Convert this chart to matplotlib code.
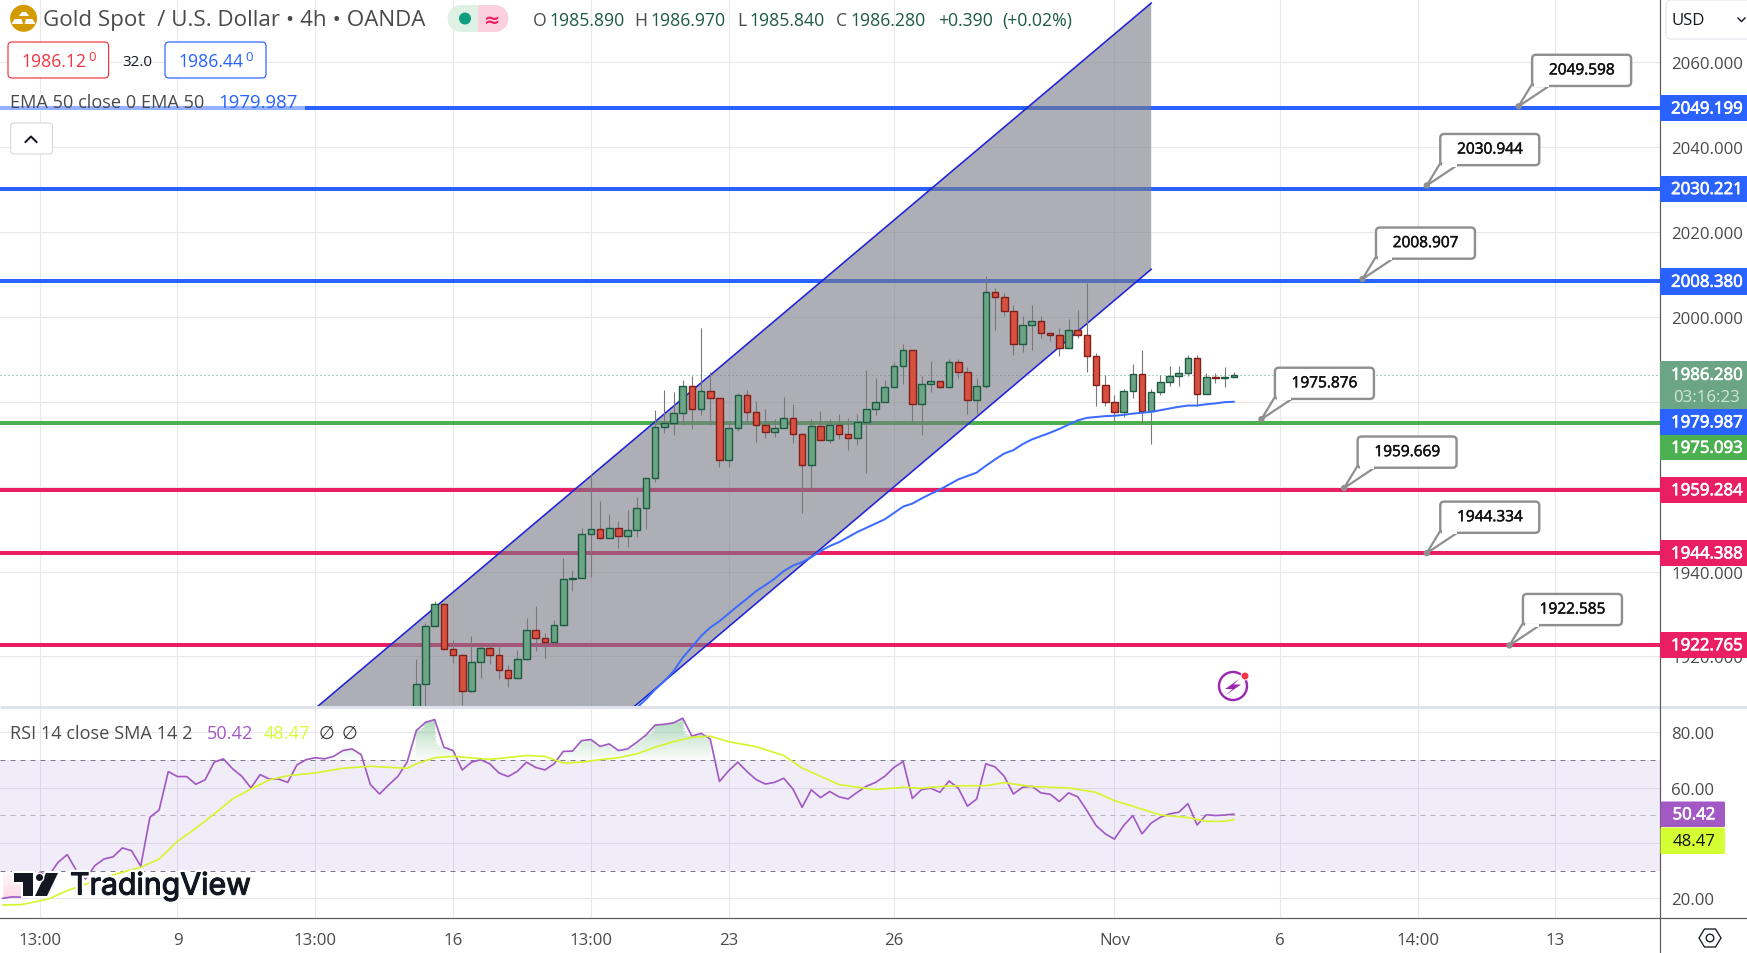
import numpy as np
import matplotlib
matplotlib.use("Agg")
import matplotlib.pyplot as plt
from matplotlib.patches import FancyBboxPatch, Polygon, Rectangle, Circle, Wedge
import matplotlib.patheffects as pe

plt.rcParams['font.family'] = ['Open Sans', 'DejaVu Sans']

# ---------- data ----------
opens = [1903,1913.6,1927.2,1932.4,1921.8,1920.4,1911.9,1918.8,1922.0,1920.4,1916.9,1915.0,1919.5,1926.3,1924.4,1923.4,1927.5,1938.3,1938.5,1948.9,
         1950.1,1947.9,1950.3,1948.4,1949.8,1955.0,1962.1,1974.1,1975.0,1977.4,1983.8,1978.3,1982.6,1980.9,1966.3,1973.9,1981.6,1977.6,1974.6,1972.9,
         1973.9,1976.2,1972.5,1965.1,1974.3,1971.0,1974.6,1972.5,1971.4,1975.3,1978.3,1980.0,1983.5,1988.5,1992.2,1979.5,1984.2,1984.9,1983.5,1989.4,
         1987.0,1980.5,1983.8,2005.9,2004.7,2001.4,1993.7,1998.1,1999.1,1996.2,1995.8,1992.7,1997.0,1995.8,1990.8,1984.0,1980.0,1977.6,1982.6,1986.6,
         1977.9,1982.3,1984.7,1986.1,1986.8,1990.4,1981.9,1985.9,1985.6,1985.89]
highs = [1919.5,1927.8,1933.1,1932.5,1923.8,1920.5,1924.7,1922.6,1923.1,1922.2,1917.9,1921.6,1929.1,1931.8,1925.4,1928.5,1943.1,1940.3,1950.3,1962.9,
         1956.7,1953.5,1951.8,1954.6,1957.5,1962.1,1978.0,1982.7,1982.2,1985.2,1986.0,1997.3,1986.9,1980.9,1975.0,1982.1,1982.8,1980.2,1978.2,1976.0,
         1981.0,1979.4,1972.7,1976.0,1977.7,1976.0,1977.2,1976.1,1977.0,1987.4,1985.7,1985.0,1989.4,1993.7,1992.2,1986.0,1989.5,1984.9,1990.1,1990.0,
         1988.1,1985.7,2009.5,2006.9,2005.7,2002.7,2000.3,2002.7,2000.1,1996.2,1997.4,1999.4,2001.7,2008.0,1991.4,1986.2,1981.5,1983.0,1988.8,1992.1,
         1983.1,1986.2,1988.4,1988.5,1991.1,1991.1,1986.7,1986.7,1988.1,1986.97]
lows = [1900,1905,1927.1,1921.5,1918.4,1908.5,1911.7,1914.9,1918.1,1914.7,1912.8,1914.7,1919.1,1921.3,1919.6,1923.2,1927.1,1935.4,1938.5,1938.8,
        1947.7,1947.9,1945.5,1945.8,1948.2,1950.0,1961.1,1972.7,1972.1,1974.5,1973.5,1976.9,1974.5,1964.6,1964.6,1973.2,1975.0,1970.5,1971.4,1971.7,
        1973.9,1970.3,1953.8,1959.2,1971.0,1970.2,1971.1,1968.6,1969.8,1963.2,1976.8,1980.0,1983.5,1984.1,1975.3,1972.1,1982.4,1983.2,1983.5,1985.7,
        1977.2,1977.0,1983.2,1997.0,2000.3,1991.1,1991.6,1992.1,1994.9,1994.2,1990.7,1992.7,1994.9,1986.9,1978.9,1978.9,1975.4,1976.5,1980.8,1974.7,
        1970.0,1981.5,1983.6,1983.8,1986.1,1979.1,1981.9,1984.5,1983.4,1985.84]
closes = opens[1:] + [1986.28]
closes[86] = 1985.9
closes[87] = 1985.6
closes[88] = 1985.9
bars = np.arange(len(opens))

ema_start = 24
ema50 = [1907.9,1909.9,1912.2,1914.2,1916.5,1919.7,1922.2,1924.8,1926.8,1928.3,1930.1,1931.9,1933.6,1935.4,1936.8,1938.3,1940.1,1941.4,1942.2,1943.4,
         1944.8,1946.0,1946.9,1948.1,1949.3,1950.3,1951.3,1952.3,1953.8,1955.3,1956.0,1957.2,1958.3,1959.3,1960.5,1961.7,1962.5,1963.3,1964.9,1966.4,
         1967.8,1968.6,1970.0,1971.1,1971.9,1972.7,1973.6,1974.6,1975.6,1976.2,1976.4,1976.6,1976.7,1976.9,1977.2,1977.4,1977.6,1978.0,1978.4,1978.8,
         1979.1,1979.1,1979.4,1979.6,1979.9,1979.987]

rsi_start = -45
rsi = [20.0,20.5,20.4,24.6,29.4,28.2,33.0,35.8,30.0,27.0,31.8,34.2,35.0,38.2,37.2,31.6,49.3,51.9,65.8,64.0,64.0,61.2,62.8,69.2,70.4,66.8,64.1,59.9,64.7,63.1,
       63.1,61.9,68.2,70.1,70.8,70.4,71.3,73.4,74.0,71.9,61.1,57.7,61.0,64.1,69.2,80.6,83.6,84.6,74.6,73.4,66.4,69.2,70.1,68.6,65.3,64.0,65.9,69.2,67.3,66.4,
       68.6,73.1,73.2,77.0,77.4,74.9,75.8,73.4,74.0,76.4,79.0,82.6,82.9,83.4,85.1,78.6,79.6,77.6,62.2,66.1,69.2,65.8,62.9,61.3,61.9,63.4,59.5,52.9,59.2,56.4,
       58.6,56.7,55.9,58.3,60.5,61.9,64.1,67.3,69.4,56.1,59.3,59.8,58.3,62.4,59.8,53.3,55.9,68.6,67.5,64.1,57.7,60.1,60.5,58.1,57.6,55.0,58.1,56.7,51.7,46.3,
       43.3,41.4,46.3,49.9,43.3,47.2,49.3,50.5,51.1,54.2,46.5,50.2,49.9,50.1,50.42]

sma_bars = [-45,-43,-40,-38,-33,-30,-28,-26,-24,-22,-20,-18,-16,-14,-11,-8,-5,-1,0,2,4,8,12,14,16,18,20,22,24,26,28,30,32,34,37,40,42,46,50,53,55,58,62,64,67,71,74,76,78,81,84,86,88,89]
sma_vals = [17.6,17.7,19.8,22.8,28.5,31.2,34.2,40.6,45.3,50.5,55.9,59.5,62.8,64.3,65.3,67.0,67.7,67.0,68.6,70.8,71.3,70.2,71.6,71.3,68.9,69.2,70.1,70.8,72.2,74.6,76.6,78.2,78.6,76.6,74.8,71.6,67.1,61.1,59.3,60.1,59.8,60.6,60.7,61.8,60.4,59.9,58.3,55.3,53.3,50.1,49.2,47.8,47.8,48.47]

res_levels = [2049.199, 2030.221, 2008.380]
pivot_level = [1975.093]
sup_levels = [1959.284, 1944.388, 1922.765]
last_price = 1986.28
ema_last = 1979.987

channel_bar = [-10.75, 23.62, 80.0]
channel_upper_ends = [1908.2, 2073.9]
channel_lower_ends = [1908.0, 2011.2]

callout_bars = [120, 110, 103, 92, 101, 110, 119]
callout_prices = [2049.598, 2030.944, 2008.907, 1975.876, 1959.669, 1944.334, 1922.585]

price_ticks = [1920, 1940, 1960, 1980, 2000, 2020, 2040, 2060]
price_ticklabels_shown = [1920, 1940, 2000, 2020, 2040, 2060]
rsi_ticks = [20, 40, 60, 80]
rsi_ticklabels_shown = [20, 60, 80]
time_ticks = [-41, -26, -11, 4, 19, 34, 52, 76, 94, 109, 124]
time_labels = ['13:00', '9', '13:00', '16', '13:00', '23', '26', 'Nov', '6', '14:00', '13']

# ---------- colours ----------
GRID = '#E8E8EC'; BLUE = '#2962FF'; GREEN = '#4CAF50'; PINK = '#E91E63'
UP_F = '#6BA585'; UP_E = '#1E5A42'; DN_F = '#D85040'; DN_E = '#7E1F1A'
WICK = '#787878'; CH_LINE = '#1E22D8'; PURPLE = '#A259C4'; LIME = '#D4FF33'; TXT = '#4A4A4A'
SMA_C = '#D6F52E'

W, H = 1747, 954
fig = plt.figure(figsize=(W/100, H/100), dpi=100, facecolor='white')
PX = 0.72  # points per pixel
AX_FS = 12.1
LEG_FS = 13.1

def axes_px(x0, y0, x1, y1):
    return fig.add_axes([x0/W, 1-y1/H, (x1-x0)/W, (y1-y0)/H])

XL = (-45.32, 135.39)
ax = axes_px(0, 0, 1660, 707.5)
axr = axes_px(0, 708, 1660, 918)

# ---------- main pane ----------
ax.set_xlim(*XL); ax.set_ylim(1908.2, 2074.87)
ax.set_facecolor('none')
ax.set_yticks(price_ticks)
ax.set_yticklabels([f'{t:.3f}' if t in price_ticklabels_shown else '' for t in price_ticks], fontsize=AX_FS, color=TXT)
ax.yaxis.tick_right()
ax.tick_params(axis='y', length=0, pad=8)
ax.set_xticks(time_ticks); ax.tick_params(axis='x', length=0, labelbottom=False)
ax.grid(True, color=GRID, lw=1.1*PX); ax.set_axisbelow(True)
for s in ax.spines.values(): s.set_visible(False)

for v in res_levels: ax.axhline(v, color=BLUE, lw=4*PX, zorder=1.5)
for v in pivot_level: ax.axhline(v, color=GREEN, lw=4*PX, zorder=1.5)
for v in sup_levels: ax.axhline(v, color=PINK, lw=4*PX, zorder=1.5)
ax.axhline(last_price, color='#5E9A80', lw=1*PX, ls=(0, (1, 3)), zorder=1.6)

# parallel channel
ch = Polygon([(channel_bar[0], channel_upper_ends[0]), (channel_bar[2], channel_upper_ends[1]),
              (channel_bar[2], channel_lower_ends[1]), (channel_bar[1], channel_lower_ends[0])],
             closed=True, facecolor='#787B86', alpha=0.6, edgecolor='none', zorder=2)
ax.add_patch(ch)
ax.plot([channel_bar[0], channel_bar[2]], channel_upper_ends, color=CH_LINE, lw=1.6*PX, zorder=2.5)
ax.plot([channel_bar[1], channel_bar[2]], channel_lower_ends, color=CH_LINE, lw=1.6*PX, zorder=2.5)

# candles
o, c, h, l = map(np.array, (opens, closes, highs, lows))
up = c >= o
ax.vlines(bars, l, h, color=WICK, lw=1.1*PX, zorder=3)
ax.bar(bars[up], np.maximum(np.abs(c-o)[up], 0.25), bottom=np.minimum(o, c)[up], width=0.72,
       facecolor=UP_F, edgecolor=UP_E, linewidth=1.4*PX, zorder=4)
ax.bar(bars[~up], np.maximum(np.abs(c-o)[~up], 0.25), bottom=np.minimum(o, c)[~up], width=0.72,
       facecolor=DN_F, edgecolor=DN_E, linewidth=1.4*PX, zorder=4)
ax.plot(np.arange(ema_start, ema_start+len(ema50)), ema50, color='#3D6BFF', lw=2*PX, zorder=5)

# ---------- RSI pane ----------
axr.set_xlim(*XL); axr.set_ylim(13.24, 89.14)
axr.set_facecolor('none')
axr.set_yticks(rsi_ticks); axr.set_yticklabels([f'{t:.2f}' if t in rsi_ticklabels_shown else '' for t in rsi_ticks], fontsize=AX_FS, color=TXT)
axr.yaxis.tick_right()
axr.tick_params(axis='y', length=0, pad=8)
axr.set_xticks(time_ticks); axr.set_xticklabels(time_labels, fontsize=AX_FS, color=TXT)
axr.tick_params(axis='x', length=0, pad=10.5)
axr.grid(True, color=GRID, lw=1.1*PX); axr.set_axisbelow(True)
for s in axr.spines.values(): s.set_visible(False)

axr.axhspan(30, 70, facecolor='#7E57C2', alpha=0.105, edgecolor='none', zorder=1)
axr.axhline(70, color='#787B86', lw=1*PX, ls=(0, (5, 5)), zorder=1.2)
axr.axhline(50, color='#B4B4BC', lw=1*PX, ls=(0, (5, 5)), zorder=1.2)
axr.axhline(30, color='#787B86', lw=1*PX, ls=(0, (5, 5)), zorder=1.2)

rx = np.arange(rsi_start, rsi_start+len(rsi)); ry = np.array(rsi)
edges = np.linspace(70, 86, 17)
for lo, hi in zip(edges[:-1], edges[1:]):
    a = 0.04 + 0.5*(lo-70)/16
    axr.fill_between(rx, lo, np.minimum(ry, hi), where=ry > lo, interpolate=True, color='#5DB075', alpha=a, lw=0, zorder=1.3)
edges = np.linspace(17, 30, 10)
for lo, hi in zip(edges[:-1], edges[1:]):
    a = 0.06 + 0.4*(30-hi)/13
    axr.fill_between(rx, np.maximum(ry, lo), hi, where=ry < hi, interpolate=True, color='#F48FB1', alpha=a, lw=0, zorder=1.3)
axr.plot(rx, ry, color=PURPLE, lw=1.7*PX, zorder=3)
axr.plot(sma_bars, sma_vals, color=SMA_C, lw=1.7*PX, zorder=3.2)

# ---------- overlay in pixel space ----------
ov = fig.add_axes([0, 0, 1, 1], zorder=10)
ov.set_xlim(0, W); ov.set_ylim(H, 0); ov.axis('off'); ov.patch.set_alpha(0)

def T(x, y, s, size=AX_FS, color=TXT, ha='left', va='center', **kw):
    return ov.text(x, y+1.3, s, fontsize=size, color=color, ha=ha, va=va, **kw)

def rect(x0, y0, x1, y1, fc, ec='none', lw=0, alpha=None, z=2):
    ov.add_patch(Rectangle((x0, y0), x1-x0, y1-y0, facecolor=fc, edgecolor=ec, lw=lw, alpha=alpha, zorder=z))

def rbox(x0, y0, x1, y1, fc, ec, lw=1, r=4, z=2):
    ov.add_patch(FancyBboxPatch((x0+r, y0+r), x1-x0-2*r, y1-y0-2*r, boxstyle=f'round,pad={r},rounding_size={r}',
                                facecolor=fc, edgecolor=ec, lw=lw*PX, zorder=z))

# pane separators
ov.plot([0, W], [707.5, 707.5], color='#E0E3EB', lw=3*PX, zorder=1, solid_capstyle='butt')
ov.plot([0, W], [918.5, 918.5], color='#5A5A5A', lw=1.2*PX, zorder=1)
ov.plot([1660.5, 1660.5], [0, H], color='#5A5A5A', lw=1.2*PX, zorder=1)

# price badges
def y_of(price):
    return H - ax.transData.transform((0, price))[1]
def x_of(bar):
    return ax.transData.transform((bar, 2000))[0]

def badge(y0, y1, fc, text, tc='white', size=AX_FS):
    rect(1660.5, y0, 1747, y1, fc)
    if text:
        t = T(1707, (y0+y1)/2, text, size=size, color=tc, ha='center', zorder=4)
        t.set_path_effects([pe.withStroke(linewidth=0.5, foreground=tc)])

for v in res_levels:
    badge(y_of(v)-13, y_of(v)+13.5, BLUE, f'{v:.3f}')
for v in sup_levels:
    badge(y_of(v)-13, y_of(v)+13.5, PINK, f'{v:.3f}')
badge(362, 410, UP_F, '')
T(1707, 375.5, f'{last_price:.3f}', color='white', ha='center', zorder=4, path_effects=[pe.withStroke(linewidth=0.5, foreground='white')])
T(1707, 397, '03:16:23', color='#D2E6DA', ha='center', zorder=4)
badge(410, 436, BLUE, f'{ema_last:.3f}')
badge(436, 461, GREEN, f'{pivot_level[0]:.3f}')
rbox(1660.5, 802.5, 1725, 828, PURPLE, PURPLE, lw=0, r=1.5)
T(1694, 815, f'{rsi[-1]:.2f}', color='white', ha='center', zorder=4, path_effects=[pe.withStroke(linewidth=0.5, foreground='white')])
rbox(1660.5, 828.5, 1725, 855, LIME, LIME, lw=0, r=1.5)
T(1694, 841, f'{sma_vals[-1]:.2f}', color='#111111', ha='center', zorder=4)

# callouts
for b, p in zip(callout_bars, callout_prices):
    xa, ya = x_of(b), y_of(p)
    x0, x1 = xa+13.5, xa+112.5
    y0, y1 = ya-51.5, ya-20.3
    ov.add_patch(Polygon([(xa, ya), (xa+13.5, y1-2), (xa+32, y1-1)], closed=True, facecolor='white', edgecolor='#8F8F8F', lw=2.2*PX, zorder=5))
    ov.add_patch(Circle((xa, ya), 3.2, facecolor='#8F8F8F', edgecolor='none', zorder=6))
    rbox(x0, y0, x1, y1, 'white', '#8F8F8F', lw=2.4, r=4, z=5.5)
    ov.add_patch(Polygon([(xa+15.5, y1+1.5), (xa+30, y1+1.5), (xa+30, y1-1.5), (xa+15.5, y1-1.5)], closed=True, facecolor='white', edgecolor='none', zorder=5.8))
    T(xa+63, (y0+y1)/2-0.8, f'{p:.3f}', size=11.1, color='#111111', ha='center', zorder=7,
      path_effects=[pe.withStroke(linewidth=0.35, foreground='#111111')])

# header
ov.add_patch(Circle((23.6, 19.3), 13.5, facecolor='#D49B00', edgecolor='none', zorder=3))
for pts in ([(19, 17), (22, 13), (26, 13), (29, 17)], [(11.5, 25), (14.5, 20), (21.5, 20), (23, 25)], [(24.5, 25), (26, 20), (32.5, 20), (35.5, 25)]):
    ov.add_patch(Polygon(pts, closed=True, facecolor='white', edgecolor='none', zorder=4))
T(43, 19.5, 'Gold Spot  / U.S. Dollar • 4h • OANDA', size=16.1)
ov.add_patch(Wedge((461, 19.5), 13.5, 90, 270, facecolor='#DFF0E4', edgecolor='none', zorder=2))
rect(461, 6, 478, 33, '#DFF0E4')
rect(478, 6, 495, 33, '#FBD0DE')
ov.add_patch(Wedge((495, 19.5), 13.5, 270, 90, facecolor='#FBD0DE', edgecolor='none', zorder=2))
ov.add_patch(Circle((465, 19.5), 6, facecolor='#0F9D80', edgecolor='none', zorder=3))
T(492, 19, '≈', size=14, color=PINK, ha='center', weight='bold', family='DejaVu Sans', zorder=4)

OHLC_GREEN = '#1E5A42'
for lx, let, vx, val in [(532.5, 'O', 549.7, '1985.890'), (634.7, 'H', 650, '1986.970'), (737, 'L', 749.5, '1985.840'), (836, 'C', 850, '1986.280')]:
    T(lx, 20, let, size=12.7)
    T(vx, 20, val, size=12.7, color=OHLC_GREEN)
T(938, 20, '+0.390', size=12.7, color=OHLC_GREEN)
T(1002, 20, '(+0.02%)', size=12.7, color=OHLC_GREEN)

rbox(8, 43, 108.6, 79, 'white', '#F23645', lw=1.2, r=4)
T(21, 61, '1986.12', size=12.7, color='#F23645')
T(88.5, 56.5, '0', size=9.5, color='#F23645')
T(137.5, 61, '32.0', size=11, color='#131722', ha='center')
rbox(165, 43, 266, 79, 'white', BLUE, lw=1.2, r=4)
T(178, 61, '1986.44', size=12.7, color=BLUE)
T(245.5, 56.5, '0', size=9.5, color=BLUE)

rect(0, 94, 305, 114, 'white', alpha=0.5, z=1.5)
T(10, 102, 'EMA 50 close 0 EMA 50', size=LEG_FS)
T(218, 102, f'{ema_last:.3f}', size=13.4, color=BLUE)
rbox(10.7, 124, 52.5, 155, 'white', '#D1D4DC', lw=1, r=3)
ov.plot([25.5, 31, 36.5], [143, 137.5, 143], color='#131722', lw=2*PX, zorder=4)

T(10, 732.5, 'RSI 14 close SMA 14 2', size=LEG_FS)
T(207, 732.5, f'{rsi[-1]:.2f}', size=LEG_FS, color=PURPLE)
T(264, 732.5, f'{sma_vals[-1]:.2f}', size=LEG_FS, color=LIME)
T(327, 732.5, '∅', size=LEG_FS, color='#333333', ha='center')
T(350, 732.5, '∅', size=LEG_FS, color='#333333', ha='center')

# currency box
rbox(1666, 1, 1752, 40, 'white', '#E0E3EB', lw=1, r=5)
T(1672, 20, 'USD', size=AX_FS, color='#131722')
ov.plot([1738, 1741.5, 1745], [19, 22.5, 19], color='#131722', lw=1.4*PX, zorder=4)

# settings glyph
ov.add_patch(Polygon([(1699, 939), (1704.5, 930), (1715.5, 930), (1721, 939), (1715.5, 948), (1704.5, 948)], closed=True,
                     facecolor='white', edgecolor='#131722', lw=1.3*PX, zorder=3))
ov.add_patch(Circle((1710, 939), 3.8, facecolor='white', edgecolor='#131722', lw=1.3*PX, zorder=4))

# lightning icon
ov.add_patch(Circle((1233, 687), 14, facecolor='none', edgecolor='#9C27B0', lw=2.4*PX, zorder=3))
ov.add_patch(Polygon([(1240, 679.5), (1225, 690), (1232.5, 690), (1226, 696), (1241, 685.5), (1233.5, 685.5)], closed=True, facecolor='#9C27B0', edgecolor='none', zorder=4))
ov.add_patch(Circle((1245, 677), 4, facecolor='#F23645', edgecolor='white', lw=0.7, zorder=5))

# TradingView logo
halo = [pe.withStroke(linewidth=4, foreground='white'), pe.withStroke(linewidth=0.8, foreground='#131722')]
T(70, 886, 'TradingView', size=21.8, color='#131722', family='Inter', zorder=6, path_effects=halo)
for pts in ([(14, 874), (33.5, 874), (33.5, 897), (23, 897), (23, 883), (14, 883)],
            [(46, 874), (58, 874), (47, 897), (35, 897)]):
    p_ = Polygon(pts, closed=True, facecolor='#131722', edgecolor='none', zorder=6, path_effects=[pe.withStroke(linewidth=3, foreground='white')])
    ov.add_patch(p_)
ov.add_patch(Circle((39.5, 878.5), 4.2, facecolor='#131722', edgecolor='white', lw=1, zorder=6))

fig.savefig('out.png', dpi=100, facecolor='white')
